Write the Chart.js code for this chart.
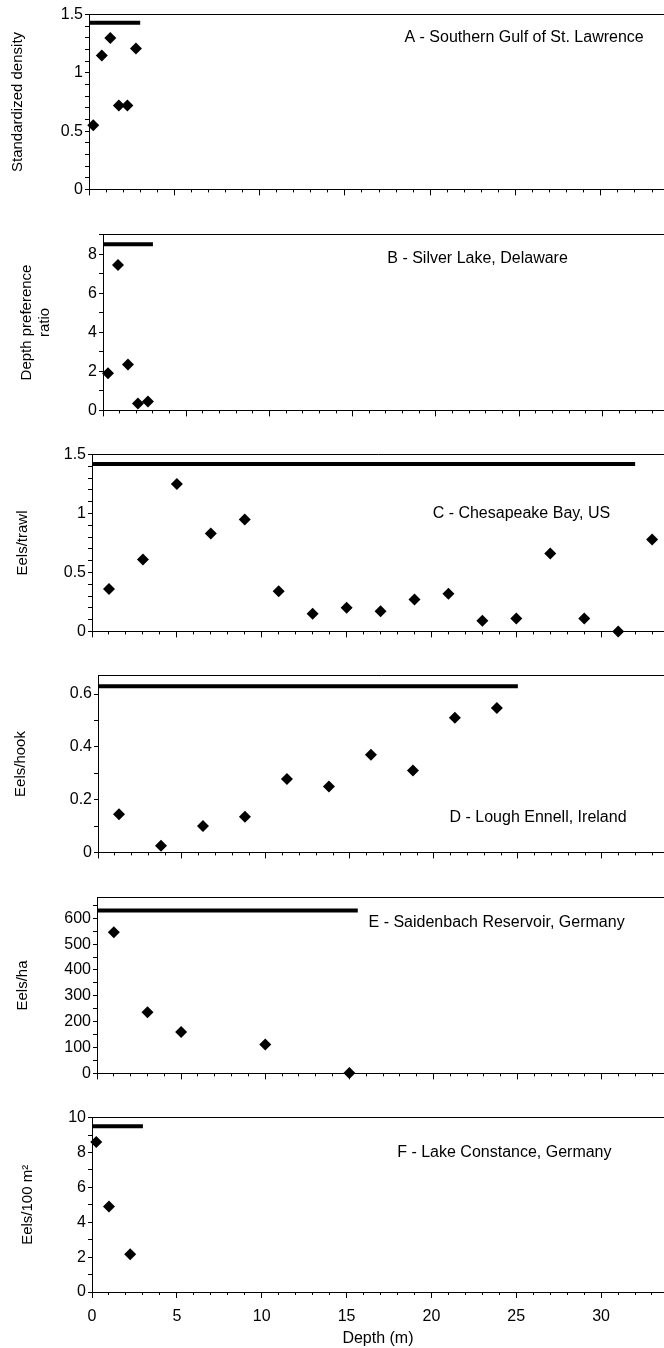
<!DOCTYPE html>
<html>
<head>
<meta charset="utf-8">
<script src="https://cdn.jsdelivr.net/npm/chart.js@4.4.0/dist/chart.umd.min.js"></script>
<style>
  html, body { margin: 0; padding: 0; background: #fff; }
  #page { position: relative; width: 664px; height: 1348px; overflow: hidden; }
  #page canvas { position: absolute; left: 0; }
</style>
</head>
<body>
<div id="page"></div>
<script>
// A - Southern Gulf of St. Lawrence
const depthA = [0.25, 0.75, 1.25, 1.75, 2.25, 2.75];
const densityA = [0.55, 1.15, 1.30, 0.72, 0.72, 1.21];
const rangeA = [0, 3];
const levelA = 1.43;

// B - Silver Lake, Delaware
const depthB = [0.3, 0.9, 1.5, 2.1, 2.7];
const ratioB = [1.9, 7.45, 2.35, 0.35, 0.45];
const rangeB = [0, 3];
const levelB = 8.5;

// C - Chesapeake Bay
const depthC = [1, 3, 5, 7, 9, 11, 13, 15, 17, 19, 21, 23, 25, 27, 29, 31, 33];
const trawlC = [0.36, 0.61, 1.25, 0.83, 0.95, 0.34, 0.15, 0.20, 0.17, 0.27, 0.32, 0.09, 0.11, 0.66, 0.11, 0.0, 0.78];
const rangeC = [0, 32];
const levelC = 1.42;

// D - Lough Ennell
const depthD = [1.25, 3.75, 6.25, 8.75, 11.25, 13.75, 16.25, 18.75, 21.25, 23.75];
const hookD = [0.145, 0.025, 0.10, 0.135, 0.278, 0.25, 0.37, 0.31, 0.51, 0.547];
const rangeD = [0, 25];
const levelD = 0.63;

// E - Saidenbach Reservoir
const depthE = [1, 3, 5, 10, 15];
const haE = [546, 237, 160, 112, 2];
const rangeE = [0, 15.5];
const levelE = 630;

// F - Lake Constance
const depthF = [0.25, 1, 2.25];
const m2F = [8.6, 4.9, 2.17];
const rangeF = [0, 3];
const levelF = 9.5;

const depthMax = 33.7;
const depthTickLabels = [0, 5, 10, 15, 20, 25, 30];

Chart.defaults.font.family = '"Liberation Sans", Arial, sans-serif';
Chart.defaults.color = '#000';

const panels = [
  { x: depthA, y: densityA, range: rangeA, level: levelA, yMax: 1.5, yStep: 0.1, yMajor: 0.5,
    title: 'Standardized density', label: 'A - Southern Gulf of St. Lawrence', labelAt: [25.5, 1.30],
    top: 13, bottom: 193, left: 89, titleX: 18 },
  { x: depthB, y: ratioB, range: rangeB, level: levelB, yMax: 9, yStep: 1, yMajor: 2,
    title: ['Depth preference', 'ratio'], label: 'B - Silver Lake, Delaware', labelAt: [22.5, 7.77],
    top: 233, bottom: 414, left: 103, titleX: 27 },
  { x: depthC, y: trawlC, range: rangeC, level: levelC, yMax: 1.5, yStep: 0.1, yMajor: 0.5,
    title: 'Eels/trawl', label: 'C - Chesapeake Bay, US', labelAt: [25.3, 1.0],
    top: 453, bottom: 635, left: 92, titleX: 23 },
  { x: depthD, y: hookD, range: rangeD, level: levelD, yMax: 0.67, yStep: 0.1, yMajor: 0.2,
    title: 'Eels/hook', label: 'D - Lough Ennell, Ireland', labelAt: [26.2, 0.133],
    top: 674, bottom: 856, left: 98, titleX: 21 },
  { x: depthE, y: haE, range: rangeE, level: levelE, yMax: 680, yStep: 50, yMajor: 100,
    title: 'Eels/ha', label: 'E - Saidenbach Reservoir, Germany', labelAt: [23.75, 585],
    top: 896, bottom: 1077, left: 97, titleX: 23 },
  { x: depthF, y: m2F, range: rangeF, level: levelF, yMax: 10, yStep: 1, yMajor: 2,
    title: 'Eels/100 m\u00B2', label: 'F - Lake Constance, Germany', labelAt: [24.3, 8.0],
    top: 1116, bottom: 1292, left: 92, titleX: 28 }
];

const onStep = (v, step) => Math.abs(v / step - Math.round(v / step)) < 1e-6;

// evenly spaced ticks from 0 up to max (chart.js rounds 0.1 steps badly)
function stepTicks(max, step) {
  const out = [];
  for (let k = 0; k * step <= max + 1e-9; k++) {
    out.push({ value: Math.round(k * step * 1e6) / 1e6 });
  }
  return out;
}

const panelLabel = {
  id: 'panelLabel',
  afterDatasetsDraw(chart, args, opts) {
    const ctx = chart.ctx;
    ctx.save();
    ctx.font = '16px "Liberation Sans", Arial, sans-serif';
    ctx.fillStyle = '#000';
    ctx.textAlign = 'center';
    ctx.textBaseline = 'middle';
    ctx.fillText(opts.text, chart.scales.x.getPixelForValue(opts.x), chart.scales.y.getPixelForValue(opts.y));
    ctx.restore();
  }
};

// longer tick marks every 5 m
const majorTicks = {
  id: 'majorTicks',
  afterDraw(chart) {
    const s = chart.scales.x;
    const ctx = chart.ctx;
    ctx.save();
    ctx.strokeStyle = '#000';
    ctx.lineWidth = 1;
    ctx.beginPath();
    s.ticks.forEach(t => {
      if (!onStep(t.value, 5)) return;
      const px = Math.round(s.getPixelForValue(t.value) - 0.5) + 0.5;
      ctx.moveTo(px, s.top);
      ctx.lineTo(px, s.top + 6);
    });
    ctx.stroke();
    ctx.restore();
  }
};

const page = document.getElementById('page');

panels.forEach((p, i) => {
  const isLast = i === panels.length - 1;
  const pad = 10;
  const axisH = isLast ? 1348 - p.bottom : 8;
  const h = (p.bottom - p.top) + pad + axisH;
  const canvas = document.createElement('canvas');
  canvas.width = 664;
  canvas.height = h;
  canvas.style.top = (p.top - pad) + 'px';
  page.appendChild(canvas);

  new Chart(canvas, {
    type: 'scatter',
    data: {
      datasets: [
        {
          data: p.x.map((v, k) => ({ x: v, y: p.y[k] })),
          pointStyle: 'rectRot',
          pointRadius: 6,
          pointHoverRadius: 6,
          backgroundColor: '#000',
          borderColor: '#000',
          borderWidth: 0,
          clip: false
        },
        {
          data: p.range.map(v => ({ x: v, y: p.level })),
          showLine: true,
          borderColor: '#000',
          borderWidth: 4,
          borderCapStyle: 'butt',
          pointRadius: 0,
          clip: false
        }
      ]
    },
    options: {
      responsive: false,
      animation: false,
      events: [],
      layout: { padding: { top: pad, left: 0, right: 0, bottom: 0 }, autoPadding: false },
      plugins: {
        legend: { display: false },
        tooltip: { enabled: false },
        panelLabel: { text: p.label, x: p.labelAt[0], y: p.labelAt[1] }
      },
      scales: {
        x: {
          type: 'linear',
          position: 'bottom',
          min: 0,
          max: depthMax,
          ticks: {
            autoSkip: false,
            maxRotation: 0,
            display: isLast,
            padding: 12,
            font: { size: 16 },
            color: '#000',
            callback: v => depthTickLabels.includes(v) ? String(v) : ''
          },
          grid: { drawOnChartArea: false, tickLength: 3, color: '#000' },
          border: { color: '#000', width: 1 },
          title: { display: isLast, text: 'Depth (m)', font: { size: 16 }, color: '#000', padding: 0 },
          afterBuildTicks: s => { s.ticks = stepTicks(depthMax, 1); },
          afterFit: s => { s.height = axisH; }
        },
        x2: {
          type: 'linear',
          position: 'top',
          min: 0,
          max: depthMax,
          grid: { display: false },
          ticks: { display: false },
          border: { display: true, color: '#000', width: 1 },
          afterFit: s => { s.height = 0; }
        },
        y: {
          min: 0,
          max: p.yMax,
          ticks: {
            autoSkip: false,
            padding: 2,
            font: { size: 16 },
            color: '#000',
            callback: v => onStep(v, p.yMajor) ? String(parseFloat(v.toFixed(3))) : ''
          },
          grid: { drawOnChartArea: false, tickLength: 4, color: '#000' },
          border: { color: '#000', width: 1 },
          title: {
            display: true,
            text: p.title,
            font: { size: 15 },
            color: '#000',
            padding: { top: p.titleX - 9, bottom: 0 }
          },
          afterBuildTicks: s => { s.ticks = stepTicks(p.yMax, p.yStep); },
          afterFit: s => { s.width = p.left; }
        }
      }
    },
    plugins: [panelLabel, majorTicks]
  });
});
</script>
</body>
</html>
